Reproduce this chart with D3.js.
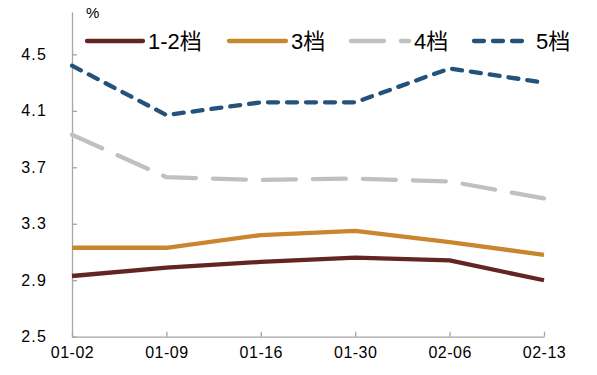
<!DOCTYPE html>
<html>
<head>
<meta charset="utf-8">
<script src="https://cdn.jsdelivr.net/npm/d3@7"></script>
<style>
  body { margin: 0; background: #fff; }
  svg { display: block; font-family: Arial, "Liberation Sans", "Noto Sans CJK SC", sans-serif; }
</style>
</head>
<body>
<svg width="597" height="375"></svg>
<script>
const width = 597;
const height = 375;

// data
const dates = ["01-02", "01-09", "01-16", "01-30", "02-06", "02-13"];
const band12 = [2.93, 2.99, 3.03, 3.06, 3.04, 2.90];
const band3 = [3.13, 3.13, 3.22, 3.25, 3.17, 3.08];
const band4 = [3.93, 3.63, 3.61, 3.62, 3.60, 3.48];
const band5 = [4.42, 4.07, 4.16, 4.16, 4.40, 4.30];
const seriesNames = ["1-2档", "3档", "4档", "5档"];
const yTicks = [2.5, 2.9, 3.3, 3.7, 4.1, 4.5];

const series = [
    { name: seriesNames[0], values: band12, color: "#632523", dash: null },
    { name: seriesNames[1], values: band3, color: "#c8862f", dash: null },
    { name: seriesNames[2], values: band4, color: "#c0c0c0", dash: "33,17" },
    { name: seriesNames[3], values: band5, color: "#24527a", dash: "10,9" }
];

const svg = d3.select("svg");

const xScale = d3.scalePoint()
                    .domain(dates)
                    .range([72, 544]);

const yScale = d3.scaleLinear()
                    .domain([2.5, 4.8])
                    .range([336.7, 12]);

// axes
const xAxis = d3.axisBottom(xScale)
                    .tickSizeInner(-5)
                    .tickSizeOuter(0)
                    .tickPadding(10);
const yAxis = d3.axisLeft(yScale)
                    .tickValues(yTicks)
                    .tickSizeInner(-5)
                    .tickSizeOuter(0)
                    .tickPadding(25)
                    .tickFormat(d3.format(".1f"));

const gx = svg.append("g")
        .attr("transform", "translate(0," + yScale(2.5) + ")")
        .call(xAxis);

const gy = svg.append("g")
        .attr("transform", "translate(" + xScale(dates[0]) + ",0)")
        .call(yAxis);

[gx, gy].forEach(g => {
    g.selectAll(".domain, .tick line")
        .attr("stroke", "#a6a6a6")
        .attr("stroke-width", 1.3);
    g.selectAll("text")
        .attr("fill", "#000")
        .attr("font-size", "16px");
});
gx.selectAll("text").attr("letter-spacing", "0.5px");
gy.selectAll("text").attr("letter-spacing", "1.2px");

// unit label
svg.append("text")
    .text("%")
    .attr("x", 86)
    .attr("y", 18)
    .attr("font-size", "15px")
    .attr("fill", "#000");

// lines
const line = d3.line()
                .x((d, i) => xScale(dates[i]))
                .y(d => yScale(d));

svg.selectAll(".series")
    .data(series)
    .enter()
    .append("path")
        .classed("series", true)
        .attr("d", d => line(d.values))
        .attr("fill", "none")
        .attr("stroke", d => d.color)
        .attr("stroke-width", 4.3)
        .attr("stroke-linejoin", "round")
        .attr("stroke-linecap", d => d.dash ? "round" : "butt")
        .attr("stroke-dasharray", d => d.dash);

// legend
const legendX = [87, 229, 351, 474];
const legendLen = [56, 57, 58, 57];
const legendY = 41;

const legend = svg.selectAll(".legend")
    .data(series)
    .enter()
    .append("g")
        .classed("legend", true)
        .attr("transform", (d, i) => "translate(" + legendX[i] + "," + legendY + ")");

legend.append("line")
    .attr("x1", 0)
    .attr("x2", (d, i) => legendLen[i])
    .attr("stroke", d => d.color)
    .attr("stroke-width", 4.3)
    .attr("stroke-linecap", "round")
    .attr("stroke-dasharray", d => d.dash);

legend.append("text")
    .text(d => d.name)
    .attr("x", (d, i) => legendLen[i] + 5)
    .attr("y", 8)
    .attr("font-size", "22px")
    .attr("fill", "#000");
</script>
</body>
</html>
